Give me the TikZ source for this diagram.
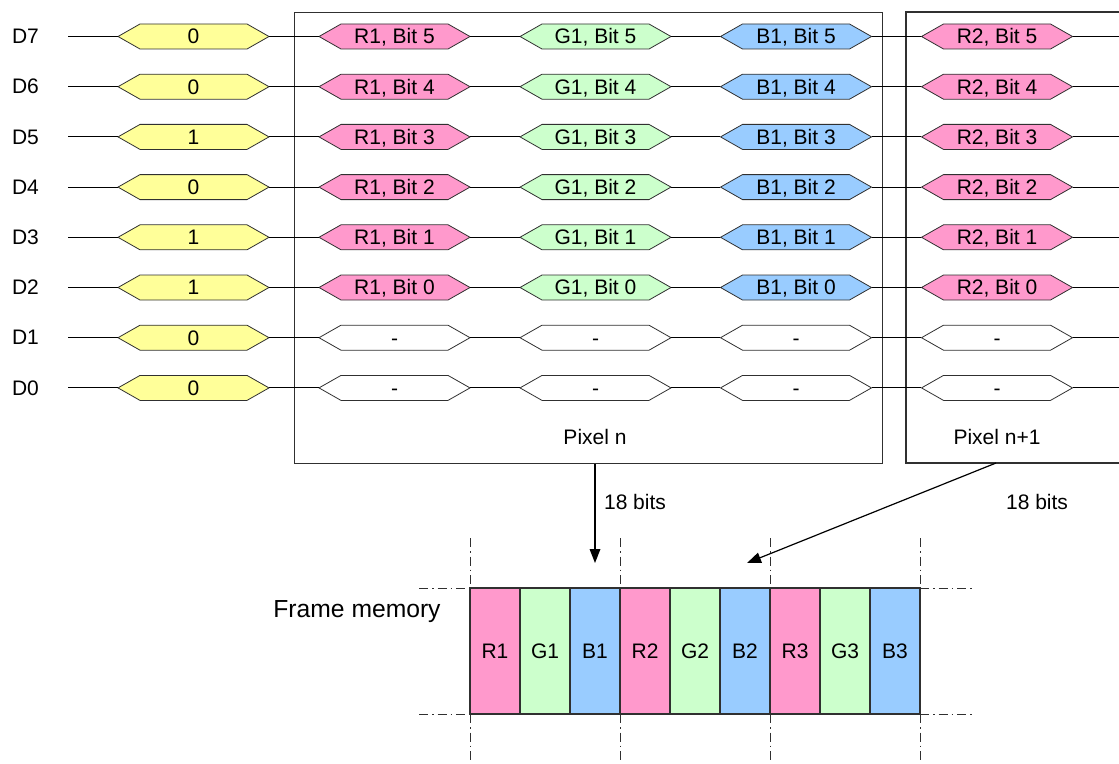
\documentclass[tikz,border=0pt]{standalone}
\usepackage{fontspec}
\setmainfont{Liberation Sans}
\usetikzlibrary{arrows.meta}
\definecolor{cyel}{HTML}{FFFF99}
\definecolor{cpink}{HTML}{FF99CC}
\definecolor{cgreen}{HTML}{CCFFCC}
\definecolor{cblue}{HTML}{99CCFF}
\definecolor{cline}{HTML}{303030}
\newcommand{\hexa}[5]{%
  \filldraw[hexline, fill=#4] ({#2-75.5},#3) -- ({#2-53.5},{#3-12.5}) -- ({#2+53.5},{#3-12.5}) -- ({#2+75.5},#3) -- ({#2+53.5},{#3+12.5}) -- ({#2-53.5},{#3+12.5}) -- cycle;
  \node[hexbox] (#1) at (#2,#3) {#5};}
\begin{document}
\begin{tikzpicture}[x=0.75pt,y=-0.75pt,
  every node/.style={font=\fontsize{15.75}{18}\selectfont, text=black},
  hexline/.style={draw=cline, line width=0.6pt},
  hexbox/.style={minimum width=113.25pt, minimum height=18.75pt, inner sep=0pt, text height=11.2pt, text depth=0pt},
  wire/.style={draw=black, line width=0.75pt},
  frame/.style={draw=cline, line width=0.9pt},
  arr/.style={draw=black, line width=0.9pt, -{Triangle[length=10.5pt,width=8pt]}},
  cell/.style={draw=cline, line width=0.9pt, minimum width=37.5pt, minimum height=94.5pt, inner sep=0pt},
  dd/.style={draw=cline, line width=0.75pt, dash pattern=on 6.75pt off 3pt on 1.2pt off 3pt}]
\useasboundingbox (0,0) rectangle (1119,763);
% pixel frames
\node[frame, anchor=north west, minimum width=441pt, minimum height=338.25pt, inner sep=0pt] (pixn) at (294,12) {};
\draw[frame] (1119,12) -- (906,12) -- (906,463) -- (1119,463);
\coordinate (src2) at (996,463);
\node (lpn) at (595,437) {Pixel n};
\node (lpn1) at (997,437) {Pixel n+1};
% signal rows
\foreach \i/\v in {7/0,6/0,5/1,4/0,3/1,2/1,1/0,0/0}{
  \pgfmathsetmacro\yy{36.5+50.2*(7-\i)}
  \pgfmathtruncatemacro\bb{\i-2}
  \node (d\i) at (25.5,\yy) {D\i};
  \coordinate (st\i) at (68,\yy);
  \coordinate (en\i) at (1119,\yy);
  \hexa{y\i}{193.5}{\yy}{cyel}{\v}
  \ifnum\i>1
    \hexa{r\i}{394.5}{\yy}{cpink}{R1, Bit \bb}
    \hexa{g\i}{595.5}{\yy}{cgreen}{G1, Bit \bb}
    \hexa{b\i}{796}{\yy}{cblue}{B1, Bit \bb}
    \hexa{s\i}{997}{\yy}{cpink}{R2, Bit \bb}
  \else
    \hexa{r\i}{394.5}{\yy}{white}{-}
    \hexa{g\i}{595.5}{\yy}{white}{-}
    \hexa{b\i}{796}{\yy}{white}{-}
    \hexa{s\i}{997}{\yy}{white}{-}
  \fi
  \draw[wire] (st\i) -- (y\i.west) (y\i.east) -- (r\i.west) (r\i.east) -- (g\i.west)
    (g\i.east) -- (b\i.west) (b\i.east) -- (s\i.west) (s\i.east) -- (en\i);
}
% arrows
\coordinate (t1) at (595,563);
\coordinate (t2) at (747,563);
\draw[arr] (pixn.south -| lpn) -- (t1);
\draw[arr] (src2) -- (t2);
\node (b18a) at (635,502) {18 bits};
\node (b18b) at (1037,502) {18 bits};
% frame memory
\node[font=\fontsize{18.5}{22}\selectfont] (fm) at (357,612) {Frame memory};
\foreach \k/\c/\t in {0/cpink/R1,1/cgreen/G1,2/cblue/B1,3/cpink/R2,4/cgreen/G2,5/cblue/B2,6/cpink/R3,7/cgreen/G3,8/cblue/B3}{
  \node[cell, fill=\c] (c\k) at ({495+50*\k},651) {\t};
}
\foreach \x in {470,620,770,920}{
  \draw[dd] (\x,538) -- (\x,588);
  \draw[dd] (\x,714) -- (\x,763);
}
\draw[dd] (419,588) -- (470,588);
\draw[dd] (920,588) -- (972,588);
\draw[dd] (419,714) -- (470,714);
\draw[dd] (920,714) -- (972,714);
\end{tikzpicture}
\end{document}
